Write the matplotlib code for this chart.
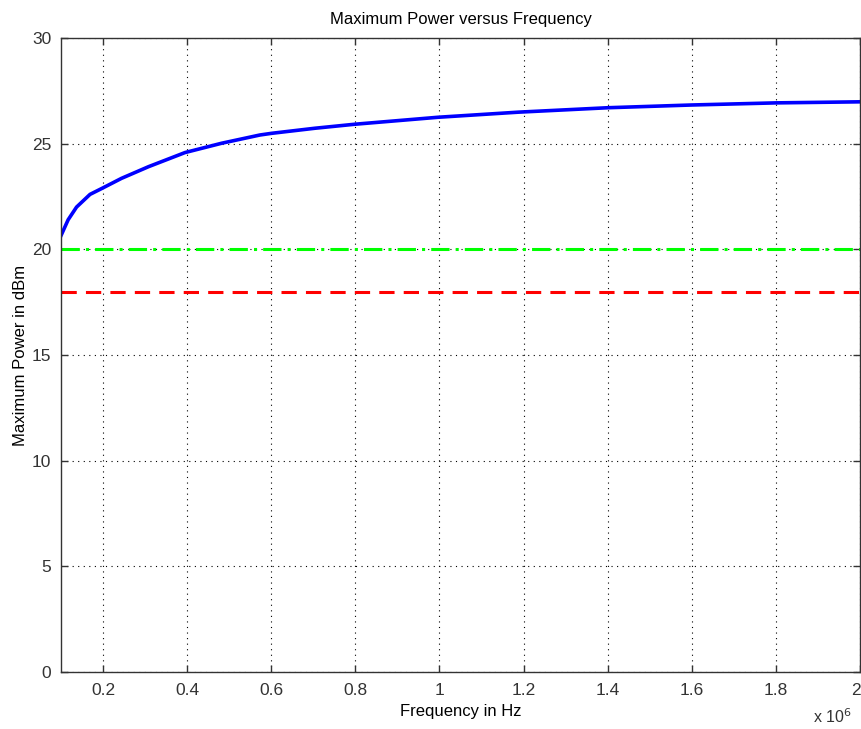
import numpy as np
import matplotlib
matplotlib.use('Agg')
import matplotlib.pyplot as plt
from matplotlib.ticker import FuncFormatter
from matplotlib.transforms import ScaledTranslation

plt.rcParams['font.family'] = ['Liberation Sans', 'DejaVu Sans']

# values
freq = [0.10, 0.117, 0.137, 0.169, 0.197, 0.244, 0.308, 0.395, 0.482, 0.573,
        0.601, 0.704, 0.799, 0.997, 1.187, 1.40, 1.60, 1.80, 2.00]
p_max = [20.65, 21.4, 22.0, 22.6, 22.88, 23.36, 23.91, 24.58, 25.02, 25.41,
         25.49, 25.73, 25.92, 26.25, 26.49, 26.7, 26.83, 26.93, 26.98]
limit_green = 20.0
limit_red = 18.0
xlim = (0.1e6, 2e6)
ylim = (0, 30)
xticks = [0.2, 0.4, 0.6, 0.8, 1.0, 1.2, 1.4, 1.6, 1.8, 2.0]
yticks = [0, 5, 10, 15, 20, 25, 30]

f_hz = np.array(freq) * 1e6

fig = plt.figure(figsize=(8.61, 7.29), dpi=100)
ax = fig.add_axes([61 / 861, 57 / 729, 799 / 861, 634 / 729])

ax.plot(f_hz, p_max, color='#0000ff', lw=2.6, solid_joinstyle='miter')
ax.plot(xlim, [limit_green] * 2, color='#00ff00', lw=2.2, ls=(0, (6, 2, 1, 2)))
ax.plot(xlim, [limit_red] * 2, color='#ff0000', lw=2.2, ls=(0, (5, 3)))

ax.set_xlim(xlim)
ax.set_ylim(ylim)
ax.set_xticks([t * 1e6 for t in xticks])
ax.xaxis.set_major_formatter(FuncFormatter(lambda v, pos: '%g' % (v / 1e6)))
ax.set_yticks(yticks)

ax.grid(True, color='black', ls=(0, (1, 4)), lw=0.8)
ax.tick_params(direction='in', top=True, right=True, length=5, width=1.0,
               labelsize=12.5, colors='#333333')
ax.tick_params(axis='x', pad=8)
ax.tick_params(axis='y', pad=7)
for s in ax.spines.values():
    s.set_color('#333333')
    s.set_linewidth(1.0)

# last x label sits on the figure edge, nudge it inwards a little
fig.canvas.draw()
last = ax.get_xticklabels()[-1]
last.set_transform(last.get_transform() + ScaledTranslation(-4 / 100, 0, fig.dpi_scale_trans))

ax.set_title('Maximum Power versus Frequency', fontsize=12, pad=10)
ax.set_xlabel('Frequency in Hz', fontsize=12, labelpad=4)
ax.set_ylabel('Maximum Power in dBm', fontsize=12, labelpad=3)
fig.text(813 / 861, 1 - 717 / 729, r'x 10$^6$', fontsize=11.5, ha='left',
         va='center', color='#333333')

fig.savefig('out.png', dpi=100)
